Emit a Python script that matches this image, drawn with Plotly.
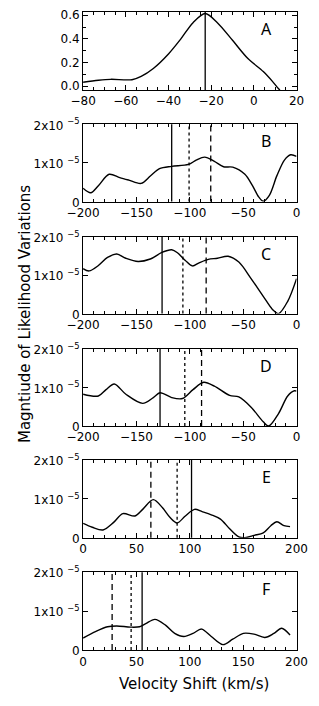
import plotly.graph_objects as go

# ---------------- data ----------------
A_x = [-80, -72.8, -67.1, -57.1, -52.8, -47.1, -39.9, -34.2, -28.5, -22.8, -17.1, -9.9, -2.8, 4.4, 8.7, 11.5, 12.2]
A_y = [0.033, 0.05, 0.058, 0.055, 0.083, 0.15, 0.275, 0.40, 0.537, 0.615, 0.537, 0.386, 0.234, 0.124, 0.041, -0.02, -0.033]

# panels B-F: values in units of 1e-5
B_x = [-200, -192.8, -185.7, -175.6, -165.7, -157.1, -145.6, -137, -128.4, -117, -101.3, -94.1, -86.1, -77,
       -68.4, -59.8, -48.4, -41.3, -35.5, -31.3, -25.5, -18.4, -11.2, -5.5, 0]
B_y = [0.345, 0.227, 0.41, 0.705, 0.62, 0.554, 0.47, 0.66, 0.85, 0.91, 0.96, 1.07, 1.15, 1.04,
       0.90, 0.89, 0.705, 0.41, 0.12, 0.005, 0.16, 0.67, 1.08, 1.21, 1.17]

C_x = [-200, -194.3, -185.7, -177.1, -168.5, -160, -148.5, -137, -126.2, -117, -111.3, -104.2, -97.6, -91.3,
       -82.7, -74.1, -64.1, -54.1, -42.6, -31.2, -22.6, -16.9, -8.3, 0]
C_y = [1.17, 1.11, 1.25, 1.46, 1.55, 1.44, 1.355, 1.42, 1.59, 1.66, 1.575, 1.38, 1.24, 1.32,
       1.41, 1.44, 1.49, 1.34, 0.91, 0.45, 0.11, 0.0, 0.32, 0.91]

D_x = [-200, -185.7, -178.5, -170.8, -159.9, -144.2, -134.2, -127.9, -117, -107, -97, -87, -77, -62.7,
       -54.1, -42.6, -31.2, -26.1, -16.9, -8.3, -2, 0]
D_y = [0.82, 0.775, 0.94, 1.085, 0.82, 0.585, 0.735, 0.86, 0.735, 0.71, 0.94, 1.13, 1.03, 0.79,
       0.75, 0.485, 0.11, 0.0, 0.32, 0.775, 0.91, 0.9]

E_x = [0, 8.6, 18.6, 28.6, 37.2, 48.6, 55.8, 65.8, 74.4, 81.5, 88.1, 95.8, 104.4, 111.5, 120.1, 128.7,
       137.3, 145.9, 151.6, 160.2, 168.8, 175.9, 181.6, 188.2, 193.9]
E_y = [0.37, 0.27, 0.20, 0.395, 0.62, 0.56, 0.73, 0.98, 0.77, 0.52, 0.38, 0.56, 0.73, 0.67, 0.59, 0.48,
       0.23, 0.02, 0.0, 0.06, 0.125, 0.31, 0.41, 0.31, 0.285]

F_x = [0, 11.5, 22.9, 31.5, 44.4, 52.9, 58.7, 67.3, 77.2, 85.8, 94.4, 103, 111, 120.1, 131, 140.2,
       150.2, 160.2, 170.2, 178.8, 186, 193.9]
F_y = [0.31, 0.475, 0.60, 0.62, 0.59, 0.60, 0.68, 0.79, 0.64, 0.43, 0.35, 0.43, 0.54, 0.35, 0.14, 0.28,
       0.43, 0.41, 0.325, 0.43, 0.56, 0.39]

# vertical marker lines: solid, dotted, dashed
A_solid = [-22.8]
B_lines = [-117, -100.7, -80.4]
C_lines = [-126, -106.5, -84.7]
D_lines = [-127.9, -104.7, -89]
E_lines = [101.6, 88.1, 63.5]
F_lines = [55.3, 45, 27.2]

labels = ["A", "B", "C", "D", "E", "F"]
SCALE = 1e-5

# ---------------- figure ----------------
W, H = 319, 706
x_left, x_right = 73.3, 306.5
panel_px = [(4, 84), (119, 198), (234, 312.7), (348.5, 427.7), (462.5, 542), (577.3, 657)]

FONT = "DejaVu Sans"
fig = go.Figure()

series = [
    (A_x, A_y, 1.0),
    (B_x, B_y, SCALE),
    (C_x, C_y, SCALE),
    (D_x, D_y, SCALE),
    (E_x, E_y, SCALE),
    (F_x, F_y, SCALE),
]
vlines = [A_solid, B_lines, C_lines, D_lines, E_lines, F_lines]
dashes = ["solid", "dot", "6px,4px"]

layout = dict(
    width=W, height=H, autosize=False,
    margin=dict(l=0, r=0, t=0, b=0),
    paper_bgcolor="white", plot_bgcolor="white",
    showlegend=False,
    font=dict(family=FONT, size=12, color="black"),
)

shapes = []
annotations = []
for i, ((xs, ys, sc), vl, lab, (ptop, pbot)) in enumerate(zip(series, vlines, labels, panel_px)):
    n = i + 1
    xa = "x" if n == 1 else f"x{n}"
    ya = "y" if n == 1 else f"y{n}"
    fig.add_trace(go.Scatter(
        x=xs, y=[v * sc for v in ys], mode="lines",
        line=dict(color="black", width=1.4, shape="spline", smoothing=0.9),
        xaxis=xa, yaxis=ya, hoverinfo="skip",
    ))
    dom_y = [(H - pbot) / H, (H - ptop) / H]
    dom_x = [x_left / W, x_right / W]
    if n == 1:
        xr, xt = [-80, 20], list(range(-80, 21, 20))
        yr = [-0.033, 0.628]
        ytv = [0.0, 0.2, 0.4, 0.6]
        ytt = ["0.0", "0.2", "0.4", "0.6"]
        yshift = 0
        yminor = dict(ticks="inside", ticklen=3, tickcolor="black", dtick=0.1, showgrid=False)
    else:
        if n <= 4:
            xr, xt = [-200, 0], list(range(-200, 1, 50))
        else:
            xr, xt = [0, 200], list(range(0, 201, 50))
        yr = [0, 2 * SCALE]
        ytv = [0, SCALE, 2 * SCALE]
        ytt = ["0", "1x10 <sup>\u22125</sup>", "2x10 <sup>\u22125</sup>"]
        yshift = 1
        yminor = dict(ticks="", showgrid=False)
    xkey = "xaxis" if n == 1 else f"xaxis{n}"
    ykey = "yaxis" if n == 1 else f"yaxis{n}"
    layout[xkey] = dict(
        domain=dom_x, range=xr, anchor=ya, tickmode="array", tickvals=xt,
        ticks="inside", ticklen=5, tickwidth=1, tickcolor="black",
        showline=True, linecolor="black", linewidth=1, mirror="ticks",
        showgrid=False, zeroline=False, fixedrange=True,
        tickfont=dict(family=FONT, size=12, color="black"),
        minor=dict(ticks="inside", ticklen=3, tickcolor="black", dtick=10 if n > 1 else 5, showgrid=False),
    )
    layout[ykey] = dict(
        domain=dom_y, range=yr, anchor=xa, tickmode="array", tickvals=ytv, ticktext=ytt,
        ticks="inside", ticklen=5, tickwidth=1, tickcolor="black",
        showline=True, linecolor="black", linewidth=1, mirror="ticks",
        showgrid=False, zeroline=False, fixedrange=True,
        ticklabelshift=yshift,
        tickfont=dict(family=FONT, size=12, color="black"),
        minor=yminor,
    )
    for j, v in enumerate(vl):
        shapes.append(dict(
            type="line", xref=xa, yref=f"{ya} domain", x0=v, x1=v, y0=0, y1=1,
            line=dict(color="black", width=1.3, dash=dashes[j]),
        ))
    annotations.append(dict(
        text=lab, xref=f"{xa} domain", yref=f"{ya} domain", x=0.859, y=0.78,
        showarrow=False, xanchor="center", yanchor="middle",
        font=dict(family="Noto Sans", size=16, color="black"),
    ))

annotations.append(dict(
    text="Velocity Shift (km/s)", xref="paper", yref="paper",
    x=195 / W, y=(H - 692) / H, showarrow=False, xanchor="center", yanchor="middle",
    font=dict(family=FONT, size=15, color="black"),
))
annotations.append(dict(
    text="Magntiude of Likelihood Variations", xref="paper", yref="paper",
    x=10 / W, y=(H - 313) / H, showarrow=False, xanchor="center", yanchor="middle",
    textangle=-90, font=dict(family=FONT, size=15, color="black"),
))

layout["shapes"] = shapes
layout["annotations"] = annotations
fig.update_layout(**layout)
fig.write_html(
    "out.html",
    config={"displayModeBar": False},
    post_script="document.body.style.margin='0';document.body.style.padding='0';",
)
